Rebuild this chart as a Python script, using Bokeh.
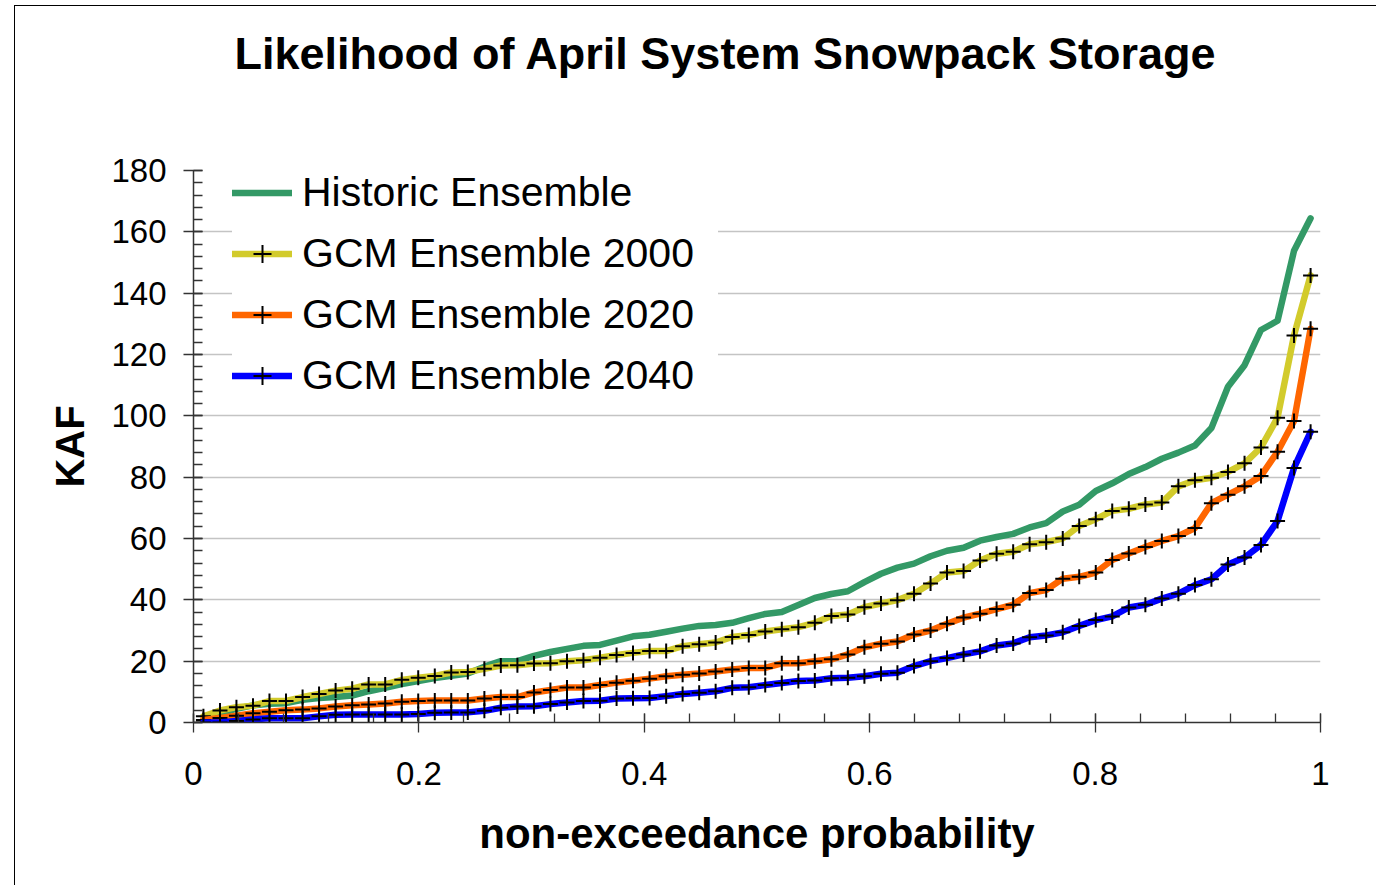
from bokeh.plotting import figure
from bokeh.models import FixedTicker, Legend, LegendItem, Title, ColumnDataSource
from bokeh.embed import file_html
from bokeh.resources import INLINE

# non-exceedance probability of each ranked member
prob = [0.0088, 0.0235, 0.0381, 0.0528, 0.0674, 0.0821, 0.0968, 0.1114, 0.1261, 0.1408,
        0.1554, 0.1701, 0.1848, 0.1994, 0.2141, 0.2287, 0.2434, 0.2581, 0.2727, 0.2874,
        0.3021, 0.3167, 0.3314, 0.3460, 0.3607, 0.3754, 0.3900, 0.4047, 0.4194, 0.4340,
        0.4487, 0.4633, 0.4780, 0.4927, 0.5073, 0.5220, 0.5367, 0.5513, 0.5660, 0.5806,
        0.5953, 0.6100, 0.6246, 0.6393, 0.6540, 0.6686, 0.6833, 0.6979, 0.7126, 0.7273,
        0.7419, 0.7566, 0.7713, 0.7859, 0.8006, 0.8152, 0.8299, 0.8446, 0.8592, 0.8739,
        0.8886, 0.9032, 0.9179, 0.9326, 0.9472, 0.9619, 0.9765, 0.9912]

historic = [0.7, 2.8, 4.5, 5.6, 6.1, 6.3, 7.4, 8.0, 8.3, 8.8,
            10.2, 11.3, 12.5, 13.5, 14.5, 15.2, 16.0, 18.2, 20.0, 20.0,
            21.7, 23.0, 24.0, 25.0, 25.3, 26.7, 28.1, 28.6, 29.6, 30.6,
            31.5, 31.8, 32.5, 34.0, 35.4, 36.0, 38.3, 40.6, 41.9, 42.8,
            45.8, 48.5, 50.5, 51.8, 54.2, 56.0, 57.0, 59.3, 60.5, 61.5,
            63.6, 65.0, 68.8, 71.0, 75.5, 78.0, 81.0, 83.3, 86.0, 88.0,
            90.3, 96.0, 109.5, 116.5, 128.0, 131.0, 153.8, 164.4]

gcm2000 = [2.0, 3.9, 5.0, 5.5, 7.0, 7.0, 8.3, 9.3, 10.4, 11.0,
           12.4, 12.4, 13.9, 14.6, 15.2, 16.3, 16.5, 17.5, 18.6, 18.7,
           19.2, 19.3, 20.0, 20.3, 21.1, 22.0, 22.7, 23.3, 23.3, 24.9,
           25.5, 26.1, 27.9, 28.5, 29.7, 30.4, 31.1, 32.5, 34.7, 35.2,
           37.6, 38.8, 39.9, 42.0, 45.3, 48.9, 49.4, 52.8, 55.0, 55.7,
           58.1, 58.8, 60.0, 64.1, 66.3, 69.0, 69.7, 71.1, 71.7, 77.0,
           79.0, 79.8, 81.7, 84.5, 89.7, 99.4, 126.2, 145.8]

gcm2020 = [0.8, 1.5, 2.2, 3.0, 3.5, 4.0, 4.2, 4.6, 5.2, 5.6,
           5.9, 6.2, 6.8, 7.0, 7.2, 7.2, 7.2, 7.8, 8.3, 8.3,
           9.8, 10.6, 11.4, 11.4, 12.2, 13.0, 13.6, 14.3, 15.1, 15.6,
           16.0, 16.6, 17.3, 17.8, 17.8, 19.3, 19.3, 20.0, 20.6, 22.2,
           24.5, 25.7, 26.4, 28.7, 30.0, 32.2, 34.2, 35.5, 37.0, 38.4,
           42.2, 43.2, 46.9, 47.5, 48.9, 53.0, 55.1, 57.2, 59.2, 60.8,
           63.4, 71.5, 74.3, 77.0, 80.4, 88.3, 98.3, 128.4]

gcm2040 = [0.0, 0.0, 0.5, 1.0, 1.4, 1.4, 1.4, 2.0, 2.5, 2.6,
           2.6, 2.6, 2.6, 2.8, 3.2, 3.3, 3.3, 3.8, 4.8, 5.2,
           5.3, 6.0, 6.5, 7.0, 7.1, 7.8, 7.9, 8.0, 8.6, 9.3,
           9.7, 10.2, 11.3, 11.5, 12.2, 12.9, 13.5, 13.7, 14.4, 14.6,
           15.1, 15.9, 16.2, 18.4, 20.0, 21.0, 22.2, 23.2, 25.1, 25.8,
           27.8, 28.4, 29.4, 31.5, 33.4, 34.6, 37.5, 38.4, 40.4, 42.0,
           44.8, 46.7, 51.5, 53.8, 57.9, 65.7, 83.0, 94.8]

series_names = ["Historic Ensemble", "GCM Ensemble 2000", "GCM Ensemble 2020", "GCM Ensemble 2040"]
series_colors = ["#339966", "#D2CB2C", "#FF6600", "#0000FF"]

x_ticks = [0, 0.2, 0.4, 0.6, 0.8, 1]
y_ticks = [0, 20, 40, 60, 80, 100, 120, 140, 160, 180]

FONT = "Liberation Sans"

p = figure(width=1362, height=880, x_range=(0, 1), y_range=(0, 180),
           output_backend="svg", toolbar_location=None,
           min_border_left=178, min_border_right=57, min_border_top=164, min_border_bottom=164)
p.margin = (5, 0, 0, 14)
p.styles = {"border-left": "1px solid #000", "border-top": "1px solid #000"}
p.outline_line_color = None
p.background_fill_color = "white"
p.border_fill_color = "white"

# spacer (nearest the frame) then the real title above it
p.add_layout(Title(text=" ", text_font=FONT, text_font_size="10px", standoff=74), "above")
p.add_layout(Title(text="Likelihood of April System Snowpack Storage", align="left", offset=41,
                   standoff=10, text_font=FONT, text_font_size="45px", text_font_style="bold",
                   text_color="black"), "above")

# grids
p.xgrid.visible = False
p.ygrid.grid_line_color = "#c4c4c4"
p.ygrid.grid_line_width = 1.3

# axes
p.xaxis.ticker = FixedTicker(ticks=x_ticks, minor_ticks=[round(0.04 * k, 2) for k in range(26)])
p.yaxis.ticker = FixedTicker(ticks=y_ticks, minor_ticks=list(range(0, 181, 4)))
p.xaxis.major_label_overrides = {0: "0", 1: "1"}
for ax in (p.xaxis[0], p.yaxis[0]):
    ax.axis_line_color = "#333333"
    ax.axis_line_width = 1.5
    ax.major_tick_line_color = "#333333"
    ax.minor_tick_line_color = "#333333"
    ax.major_tick_line_width = 1.3
    ax.minor_tick_line_width = 1.3
    ax.major_tick_in = 9
    ax.major_tick_out = 10
    ax.minor_tick_in = 9
    ax.minor_tick_out = 0
    ax.major_label_text_font = FONT
    ax.major_label_text_font_size = "33px"
    ax.major_label_text_color = "black"
    ax.axis_label_text_font = FONT
    ax.axis_label_text_font_style = "bold"
    ax.axis_label_text_color = "black"

p.xaxis.axis_label = "non-exceedance probability"
p.xaxis.axis_label_text_font_size = "42px"
p.xaxis.major_label_standoff = 29
p.xaxis.axis_label_standoff = 22
p.yaxis.axis_label = "KAF"
p.yaxis.axis_label_text_font_size = "40px"
p.yaxis.major_label_standoff = 17
p.yaxis.axis_label_standoff = 16

src = ColumnDataSource(dict(x=prob, h=historic, a=gcm2000, b=gcm2020, c=gcm2040))

items = []
r_h = p.line("x", "h", source=src, line_color=series_colors[0], line_width=6.5,
             line_join="round", line_cap="round")
items.append(LegendItem(label=series_names[0], renderers=[r_h]))
for key, name, col in zip(["a", "b", "c"], series_names[1:], series_colors[1:]):
    rl = p.line("x", key, source=src, line_color=col, line_width=6.5,
                line_join="round", line_cap="round")
    rm = p.scatter("x", key, source=src, marker="cross", size=15,
                   line_color="black", line_width=2)
    items.append(LegendItem(label=name, renderers=[rl, rm]))

legend = Legend(items=items, location=(39, 323), padding=0, margin=0, spacing=14,
                glyph_width=60, glyph_height=45, label_height=45, label_standoff=10,
                label_width=416, label_text_font=FONT, label_text_font_size="41px",
                label_text_color="black", background_fill_color="white",
                background_fill_alpha=1.0, border_line_color=None)
p.add_layout(legend, "center")

open("out.html", "w").write(file_html(p, INLINE))
